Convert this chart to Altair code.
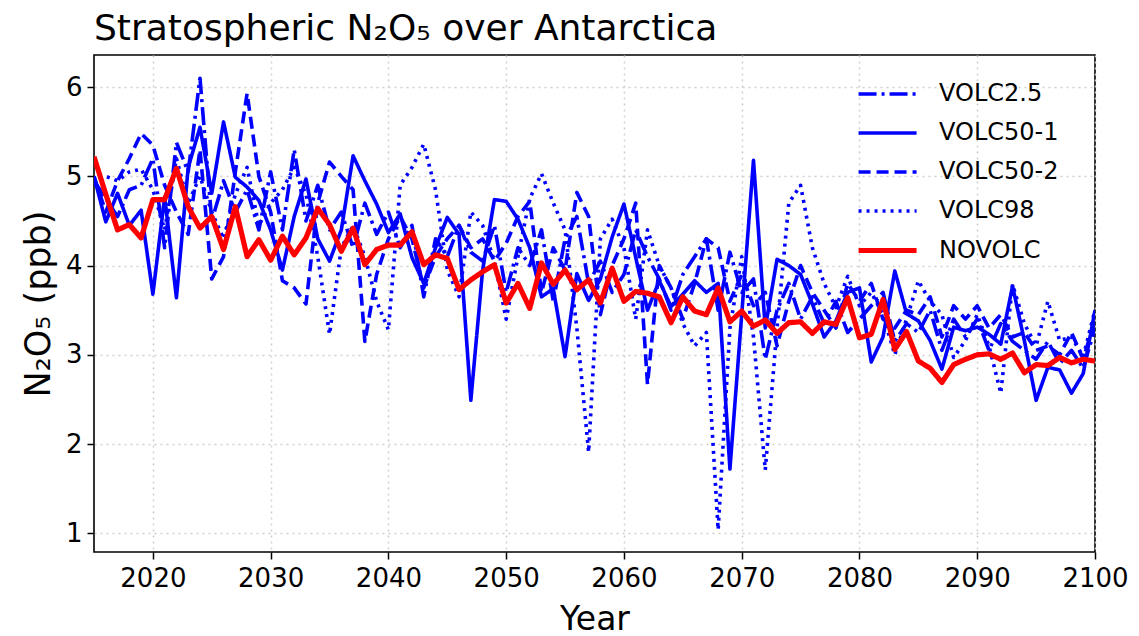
import altair as alt
import pandas as pd

years = list(range(2015, 2101))
series_names = ["VOLC2.5", "VOLC50-1", "VOLC50-2", "VOLC98", "NOVOLC"]

volc2_5 = [
    4.95, 4.75, 4.55, 4.85, 4.90, 5.20, 4.20, 5.38, 5.05, 6.10,
    4.50, 4.95, 4.60, 4.85, 4.40, 5.05, 4.40, 5.30, 4.50, 4.90,
    4.40, 4.60, 4.20, 4.70, 4.35, 4.60, 4.20, 4.45, 3.65, 4.30,
    4.10, 4.45, 4.15, 4.05, 4.45, 3.70, 4.20, 4.00, 4.40, 3.60,
    4.30, 4.55, 3.80, 4.05, 3.70, 3.90, 4.40, 4.10, 3.85, 3.50,
    3.90, 4.10, 4.30, 3.50, 4.15, 3.70, 3.85, 2.95, 3.50, 3.80,
    3.40, 3.65, 3.35, 3.60, 3.25, 3.40, 3.55, 3.70, 3.15, 3.35,
    3.25, 3.50, 3.05, 3.40, 3.20, 3.40, 3.05, 3.35, 3.15, 3.05,
    2.95, 3.15, 2.90, 3.05, 2.85, 3.30,
]
volc50_1 = [
    5.00, 4.49, 4.81, 4.45, 4.62, 3.68, 4.77, 3.64, 5.10, 5.55,
    4.81, 5.61, 4.99, 4.88, 4.73, 4.40, 3.95, 4.55, 4.97, 4.30,
    4.05, 4.40, 5.23, 4.95, 4.69, 4.37, 4.58, 4.09, 3.80, 4.20,
    4.54, 4.35, 2.49, 3.95, 4.74, 4.72, 4.52, 4.20, 3.65, 3.74,
    2.98, 3.91, 3.61, 3.85, 4.32, 4.69, 4.09, 3.50, 3.83, 3.54,
    3.68, 3.83, 3.70, 3.80, 1.72, 3.45, 5.18, 3.30, 4.07, 4.00,
    3.90, 3.57, 3.20, 3.38, 3.70, 3.75, 2.92, 3.20, 3.94, 3.46,
    3.38, 3.16, 2.84, 3.31, 3.27, 3.31, 3.23, 3.12, 3.77, 3.16,
    2.49, 2.86, 2.83, 2.57, 2.79, 3.50,
]
volc50_2 = [
    5.00, 4.60, 4.95, 5.20, 5.48, 5.35, 4.90, 4.60, 4.35, 5.30,
    3.85, 4.10, 5.05, 5.93, 5.00, 4.60, 3.83, 3.75, 3.57, 4.70,
    5.16, 5.00, 4.85, 3.15, 3.90, 4.30, 4.55, 4.30, 3.75, 4.10,
    4.30, 4.45, 4.20, 4.30, 4.05, 4.25, 4.55, 4.72, 3.70, 4.20,
    3.95, 4.82, 4.55, 3.45, 4.00, 4.30, 4.70, 2.67, 4.00, 3.75,
    3.40, 3.80, 4.30, 4.20, 3.60, 3.90, 3.55, 3.70, 3.10, 3.60,
    4.00, 3.70, 3.50, 3.30, 3.80, 3.60, 3.80, 3.40, 3.30, 3.50,
    3.45, 3.65, 3.20, 3.55, 3.40, 3.55, 3.30, 3.45, 3.20, 3.25,
    3.05, 3.10, 3.00, 3.25, 2.95, 3.40,
]
volc98 = [
    4.90, 5.00, 4.95, 5.05, 5.08, 4.85, 4.40, 5.20, 4.70, 5.00,
    4.60, 4.30, 4.80, 5.10, 4.45, 4.70, 4.85, 5.10, 4.80, 4.10,
    3.23, 4.20, 4.45, 4.10, 3.60, 3.28, 4.90, 5.10, 5.36, 4.85,
    3.95, 3.65, 4.60, 4.45, 4.05, 3.40, 4.10, 4.75, 5.03, 4.70,
    4.40, 3.30, 1.91, 4.30, 4.52, 4.20, 3.40, 4.40, 4.00, 3.75,
    3.35, 3.10, 3.25, 1.04, 3.30, 4.10, 3.20, 1.71, 3.30, 4.70,
    4.90, 4.20, 3.80, 3.53, 3.88, 3.55, 3.70, 3.45, 3.00, 3.40,
    3.83, 3.60, 3.45, 2.97, 3.16, 3.45, 3.10, 2.57, 3.79, 3.35,
    3.10, 3.60, 3.16, 3.20, 2.98, 3.50,
]
novolc = [
    5.22, 4.80, 4.40, 4.46, 4.31, 4.74, 4.74, 5.09, 4.66, 4.42,
    4.55, 4.18, 4.66, 4.10, 4.29, 4.06, 4.33, 4.12, 4.31, 4.64,
    4.46, 4.16, 4.42, 4.01, 4.18, 4.23, 4.23, 4.38, 4.01, 4.12,
    4.08, 3.73, 3.84, 3.93, 4.01, 3.58, 3.80, 3.52, 4.03, 3.79,
    3.95, 3.73, 3.84, 3.58, 3.97, 3.60, 3.71, 3.69, 3.65, 3.36,
    3.65, 3.49, 3.45, 3.75, 3.37, 3.49, 3.32, 3.39, 3.24, 3.36,
    3.37, 3.24, 3.37, 3.34, 3.64, 3.19, 3.23, 3.62, 3.06, 3.26,
    2.93, 2.85, 2.69, 2.89, 2.95, 3.00, 3.01, 2.95, 3.02, 2.80,
    2.89, 2.88, 2.97, 2.91, 2.95, 2.93,
]

x_ticks = [2020, 2030, 2040, 2050, 2060, 2070, 2080, 2090, 2100]
y_ticks = [1, 2, 3, 4, 5, 6]

colors = ["#0000ff", "#0000ff", "#0000ff", "#0000ff", "#ff0000"]
dashes = [[18, 5, 3, 5], [1, 0], [12, 6], [3, 5], [1, 0]]
widths = [3.6, 3.6, 3.6, 3.6, 5.2]

rows = []
for name, vals in zip(series_names, [volc2_5, volc50_1, volc50_2, volc98, novolc]):
    for yr, v in zip(years, vals):
        rows.append({"Year": yr, "value": v, "series": name})
df = pd.DataFrame(rows)

def make_legend():
    return alt.Legend(
        title=None,
        orient="none",
        legendX=783,
        legendY=27,
        symbolType="M-3.2,0H2.8",
        symbolSize=374,
        labelFontSize=24,
        labelOffset=37,
        rowPadding=15,
        padding=0,
        labelColor="black",
        labelFont="DejaVu Sans",
    )

chart = alt.Chart(df).mark_line(strokeJoin="round", clip=True).encode(
    x=alt.X(
        "Year:Q",
        scale=alt.Scale(domain=[2015, 2100], nice=False, zero=False),
        axis=alt.Axis(values=x_ticks, format="d", title="Year", labelPadding=6, titlePadding=12),
    ),
    y=alt.Y(
        "value:Q",
        scale=alt.Scale(domain=[0.79, 6.36], nice=False, zero=False),
        axis=alt.Axis(values=y_ticks, format="d", title="N₂O₅ (ppb)", labelPadding=5, titlePadding=9,
                      titleFontSize=35),
    ),
    color=alt.Color("series:N", scale=alt.Scale(domain=series_names, range=colors), legend=make_legend()),
    strokeDash=alt.StrokeDash("series:N", scale=alt.Scale(domain=series_names, range=dashes), legend=make_legend()),
    strokeWidth=alt.StrokeWidth(
        "series:N",
        scale=alt.Scale(type="ordinal", domain=series_names, range=widths),
        legend=make_legend(),
    ),
).properties(
    width=1001,
    height=497,
    padding={"left": 86, "top": 47, "right": 36, "bottom": 84},
    autosize=alt.AutoSizeParams(type="none"),
    title=alt.TitleParams(
        "Stratospheric N₂O₅ over Antarctica",
        anchor="start",
        frame="group",
        baseline="alphabetic",
        offset=-21,
        fontSize=36,
        fontWeight="normal",
        font="DejaVu Sans",
        color="black",
    ),
).configure(
    font="DejaVu Sans",
).configure_axis(
    labelFontSize=26,
    titleFontSize=33,
    titleFontWeight="normal",
    labelColor="black",
    titleColor="black",
    tickColor="black",
    tickSize=7,
    tickWidth=1.5,
    domain=False,
    grid=True,
    gridColor="#d0d0d0",
    gridDash=[2, 4],
    gridWidth=1.5,
    labelFlush=False,
).configure_view(
    stroke="black",
    strokeWidth=1.6,
)

chart.save("out.html", embed_options={"renderer": "svg", "actions": False})
